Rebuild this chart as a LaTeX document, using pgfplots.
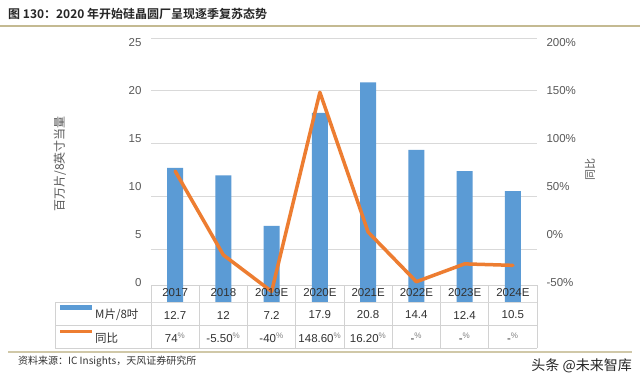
\documentclass[border=0pt]{standalone}
\usepackage{pgfplots}
\pgfplotsset{compat=1.18}
\usepackage{fontspec}
\setmainfont{Liberation Sans}
\newfontfamily\cjk[BoldFont={Noto Sans CJK SC Bold}]{Noto Sans CJK SC}
\definecolor{barblue}{RGB}{91,155,213}
\definecolor{lineorange}{RGB}{237,125,49}
\definecolor{gridgray}{RGB}{217,217,217}
\definecolor{tblgray}{RGB}{210,210,210}
\definecolor{ruletan}{RGB}{196,186,146}
\definecolor{ticktxt}{RGB}{89,89,89}
\definecolor{tbltxt}{RGB}{50,50,50}
\begin{document}
\begin{tikzpicture}[x=1pt,y=1pt]
\path[use as bounding box, fill=white] (0,0) rectangle (640,386);
% title and rules
\node[anchor=west, font=\cjk\bfseries\fontsize{12}{14}\selectfont, text=black!85, inner sep=0] at (8,372) {图 130：2020 年开始硅晶圆厂呈现逐季复苏态势};
\draw[ruletan, line width=1.6pt] (0,360) -- (640,360);
\draw[ruletan!80, line width=1.4pt] (8,34) -- (632,34);
\node[anchor=west, font=\cjk\fontsize{10}{12}\selectfont, text=black!80, inner sep=0] at (18,24) {资料来源：IC Insights，天风证券研究所};
\node[anchor=east, font=\cjk\fontsize{14}{16}\selectfont, text=black!85, inner sep=0] at (632,20) {头条 @未来智库};
% data table grid
\begin{scope}[tblgray, line width=0.7pt]
\draw (151,101) -- (537,101);
\draw (55,84) -- (537,84);
\draw (55,61) -- (537,61);
\draw (55,38) -- (537,38);
\draw (55,84) -- (55,38);
\foreach \k in {0,...,8} {\draw ({151+48.25*\k},101) -- ({151+48.25*\k},38);}
\end{scope}
% legend keys and row headers
\fill[barblue] (60,76) rectangle (92,81);
\draw[lineorange, line width=3pt] (60,55) -- (92,55);
\node[anchor=west, font=\cjk\fontsize{11.5}{13}\selectfont, text=tbltxt, inner sep=0] at (95,71) {M片/8吋};
\node[anchor=west, font=\cjk\fontsize{11.5}{13}\selectfont, text=tbltxt, inner sep=0] at (95,48) {同比};
% axis titles
\node[rotate=90, font=\cjk\fontsize{12}{14}\selectfont, text=ticktxt] at (60,222) {百万片/8英寸当量};
\node[rotate=90, font=\cjk\fontsize{11}{13}\selectfont, text=ticktxt] at (590,216) {同比};
% left axis with bars
\begin{axis}[
  at={(151pt,84pt)}, anchor=south west, scale only axis,
  width=386pt, height=264pt,
  xmin=-0.5, xmax=7.5, ymin=0, ymax=25,
  xtick=\empty, ytick={0,5,...,25},
  axis line style={draw=none}, tick style={draw=none},
  ymajorgrids, grid style={gridgray, line width=0.8pt},
  /pgf/number format/assume math mode=true,
  yticklabel style={anchor=east, xshift=-6pt, font=\fontsize{11.5}{13}\selectfont, text=ticktxt},
  yticklabel={\pgfmathparse{16-\tick}\raisebox{\pgfmathresult pt}[0pt][0pt]{\pgfmathprintnumber{\tick}}},
  clip=false,
]
\addplot[ybar, bar width=16pt, fill=barblue, draw=none] coordinates {
 (0,12.7) (1,12) (2,7.2) (3,17.9) (4,20.8) (5,14.4) (6,12.4) (7,10.5)};
\end{axis}
% right axis with growth line and table text
\begin{axis}[
  at={(151pt,84pt)}, anchor=south west, scale only axis,
  width=386pt, height=264pt,
  xmin=-0.5, xmax=7.5, ymin=-50, ymax=200,
  axis y line*=right, axis x line=none,
  xtick=\empty, ytick={-50,0,...,200},
  axis line style={draw=none}, tick style={draw=none},
  /pgf/number format/assume math mode=true,
  yticklabel style={anchor=west, xshift=6pt, font=\fontsize{11.5}{13}\selectfont, text=ticktxt},
  yticklabel={\pgfmathparse{11-\tick/10}\raisebox{\pgfmathresult pt}[0pt][0pt]{\pgfmathprintnumber{\tick}\%}},
  clip=false,
]
\addplot[lineorange, line width=3.5pt, line join=round, line cap=round] coordinates {
 (0,74) (1,-5.5) (2,-40) (3,148.6) (4,16.2) (5,-30.8) (6,-13.9) (7,-15.3)};
\foreach \i/\c/\m/\g in {0/2017/12.7/74, 1/2018/12/-5.50, 2/2019E/7.2/-40, 3/2020E/17.9/148.60, 4/2021E/20.8/16.20, 5/2022E/14.4/-, 6/2023E/12.4/-, 7/2024E/10.5/-} {
  \edef\temp{\noexpand\node[font=\noexpand\fontsize{11.5}{13}\noexpand\selectfont, text=tbltxt, inner sep=0] at (axis cs:\i,-50) [yshift=9pt] {\c};
  \noexpand\node[font=\noexpand\fontsize{11.5}{13}\noexpand\selectfont, text=tbltxt, inner sep=0] at (axis cs:\i,-50) [yshift=-13pt] {\m};
  \noexpand\node[font=\noexpand\fontsize{11.5}{13}\noexpand\selectfont, text=tbltxt, inner sep=0] at (axis cs:\i,-50) [yshift=-36pt] {\g\noexpand\textsuperscript{\noexpand\color{gray}\noexpand\%}};}
  \temp
}
\end{axis}
\end{tikzpicture}
\end{document}
